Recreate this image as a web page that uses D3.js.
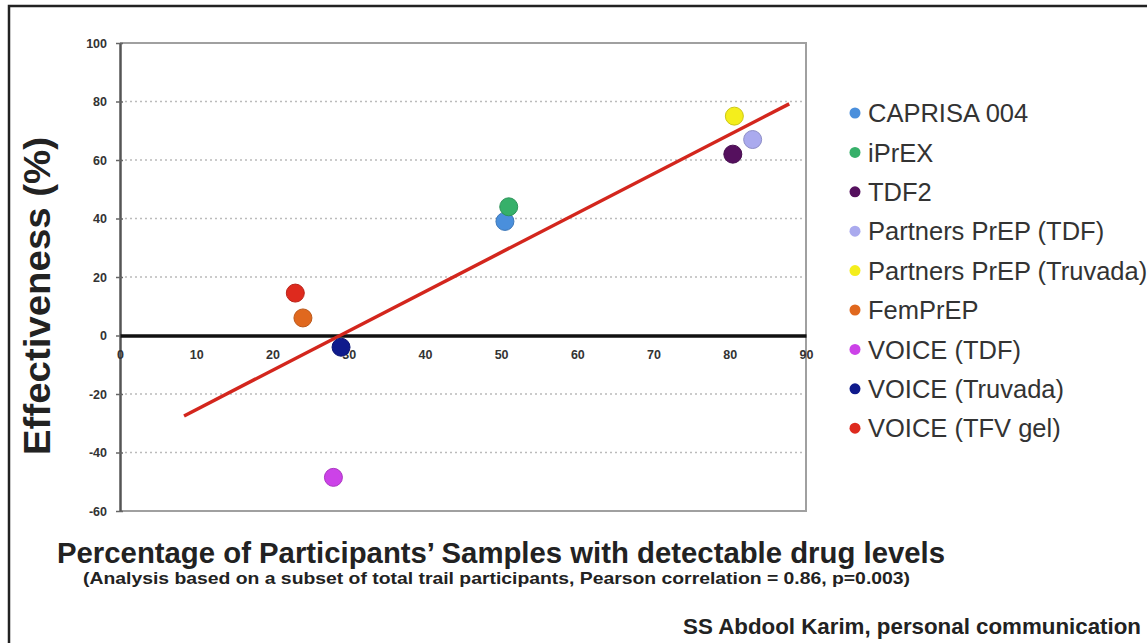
<!DOCTYPE html>
<html>
<head>
<meta charset="utf-8">
<script src="https://cdn.jsdelivr.net/npm/d3@7"></script>
<style>
  body { margin: 0; background: #fff; }
  svg { display: block; font-family: "Liberation Sans", Arial, sans-serif; }
  .narrow { font-family: "Liberation Sans Narrow", "Arial Narrow", "Liberation Sans", sans-serif; font-weight: bold; }
</style>
</head>
<body>
<div id="chart"></div>
<script>
// trial data
const trials = ['CAPRISA 004', 'iPrEX', 'TDF2', 'Partners PrEP (TDF)', 'Partners PrEP (Truvada)',
  'FemPrEP', 'VOICE (TDF)', 'VOICE (Truvada)', 'VOICE (TFV gel)'];
const detectable = [50.5, 51, 80.4, 83, 80.6, 24, 28, 29, 23];
const effectiveness = [39, 44, 62, 67, 75, 6, -48.5, -4, 14.5];
const colors = ['#4a8fdc', '#36b06a', '#55105e', '#aaaaee', '#f4ee1c', '#e0681e', '#cc42e8', '#0f1a8c', '#de2a1e'];

const xTicks = [0, 10, 20, 30, 40, 50, 60, 70, 80, 90];
const yTicks = [-60, -40, -20, 0, 20, 40, 60, 80, 100];

// regression line ends
const trendX = [8.4, 87.8];
const trendY = [-27.5, 79.2];

const W = 1147, H = 643;
const margin = { top: 43, left: 120 };
const width = 686, height = 468;

const svg = d3.select('#chart').append('svg')
  .attr('width', W)
  .attr('height', H);

// frame round the slide
svg.append('path')
  .attr('d', `M${W + 5},6 H9 V${H + 5}`)
  .attr('fill', 'none')
  .attr('stroke', '#222')
  .attr('stroke-width', 2.5);

const x = d3.scaleLinear().domain([0, 90]).range([margin.left, margin.left + width]);
const y = d3.scaleLinear().domain([-60, 100]).range([margin.top + height, margin.top]);

// dotted gridlines
svg.append('g')
  .selectAll('line')
  .data(yTicks.filter(d => d !== 0 && d !== 100 && d !== -60))
  .join('line')
  .attr('x1', x(0)).attr('x2', x(90))
  .attr('y1', d => y(d)).attr('y2', d => y(d))
  .attr('stroke', '#bbb')
  .attr('stroke-width', 1.5)
  .attr('stroke-dasharray', '2,3');

// plot border (top / right / bottom)
svg.append('path')
  .attr('d', `M${x(0)},${y(100)} H${x(90)} V${y(-60)} H${x(0)}`)
  .attr('fill', 'none')
  .attr('stroke', '#a0a0a0')
  .attr('stroke-width', 2);

// y axis
const yAxis = svg.append('g')
  .attr('transform', `translate(${x(0)},0)`)
  .call(d3.axisLeft(y).tickValues(yTicks).tickFormat(d => String(d)).tickSize(4).tickSizeOuter(0).tickPadding(9));
yAxis.select('.domain').attr('stroke', '#555').attr('stroke-width', 2.5);
yAxis.selectAll('.tick line').attr('stroke', '#666').attr('stroke-width', 1.5).attr('x2', 3).attr('x1', -4);
yAxis.selectAll('.tick text')
  .style('font-size', '12.5px').style('font-weight', 'bold').attr('fill', '#333');

// x axis sitting on zero
const xAxis = svg.append('g')
  .attr('transform', `translate(0,${y(0)})`)
  .call(d3.axisBottom(x).tickValues(xTicks).tickSize(0).tickSizeOuter(0).tickPadding(15));
xAxis.select('.domain').attr('stroke', '#111').attr('stroke-width', 3.5);
xAxis.selectAll('.tick text')
  .style('font-size', '12.5px').style('font-weight', 'bold').attr('fill', '#333');

// trend line
svg.append('line')
  .attr('x1', x(trendX[0])).attr('y1', y(trendY[0]))
  .attr('x2', x(trendX[1])).attr('y2', y(trendY[1]))
  .attr('stroke', '#d3261d')
  .attr('stroke-width', 3.5);

// points
svg.append('g')
  .selectAll('circle')
  .data(trials)
  .join('circle')
  .attr('cx', (d, i) => x(detectable[i]))
  .attr('cy', (d, i) => y(effectiveness[i]))
  .attr('r', 9)
  .attr('fill', (d, i) => colors[i])
  .attr('stroke', (d, i) => d3.color(colors[i]).darker(0.5))
  .attr('stroke-width', 1);

// legend
const legend = svg.append('g')
  .selectAll('g')
  .data(trials)
  .join('g')
  .attr('transform', (d, i) => `translate(855,${113 + i * 39.4})`);
legend.append('circle')
  .attr('r', 5.5)
  .attr('fill', (d, i) => colors[i]);
legend.append('text')
  .attr('x', 13)
  .attr('dy', '0.36em')
  .style('font-size', '25.5px')
  .attr('fill', '#333')
  .text(d => d);

// y title
svg.append('text')
  .attr('transform', 'translate(50,296) rotate(-90)')
  .attr('text-anchor', 'middle')
  .style('font-size', '36px')
  .style('font-weight', 'bold')
  .attr('fill', '#222')
  .attr('textLength', 318)
  .attr('lengthAdjust', 'spacingAndGlyphs')
  .text('Effectiveness (%)');

// x titles (condensed type, fitted to the widths in the picture)
svg.append('text')
  .attr('class', 'narrow')
  .attr('x', 57).attr('y', 563)
  .style('font-size', '29px')
  .attr('fill', '#222')
  .attr('textLength', 888)
  .attr('lengthAdjust', 'spacingAndGlyphs')
  .text('Percentage of Participants\u2019 Samples with detectable drug levels');

svg.append('text')
  .attr('class', 'narrow')
  .attr('x', 83).attr('y', 584)
  .style('font-size', '17px')
  .attr('fill', '#222')
  .attr('textLength', 827)
  .attr('lengthAdjust', 'spacingAndGlyphs')
  .text('(Analysis based on a subset of total trail participants, Pearson correlation = 0.86, p=0.003)');

svg.append('text')
  .attr('class', 'narrow')
  .attr('x', 683).attr('y', 634)
  .style('font-size', '22px')
  .attr('fill', '#222')
  .attr('textLength', 458)
  .attr('lengthAdjust', 'spacingAndGlyphs')
  .text('SS Abdool Karim, personal communication');
</script>
</body>
</html>
